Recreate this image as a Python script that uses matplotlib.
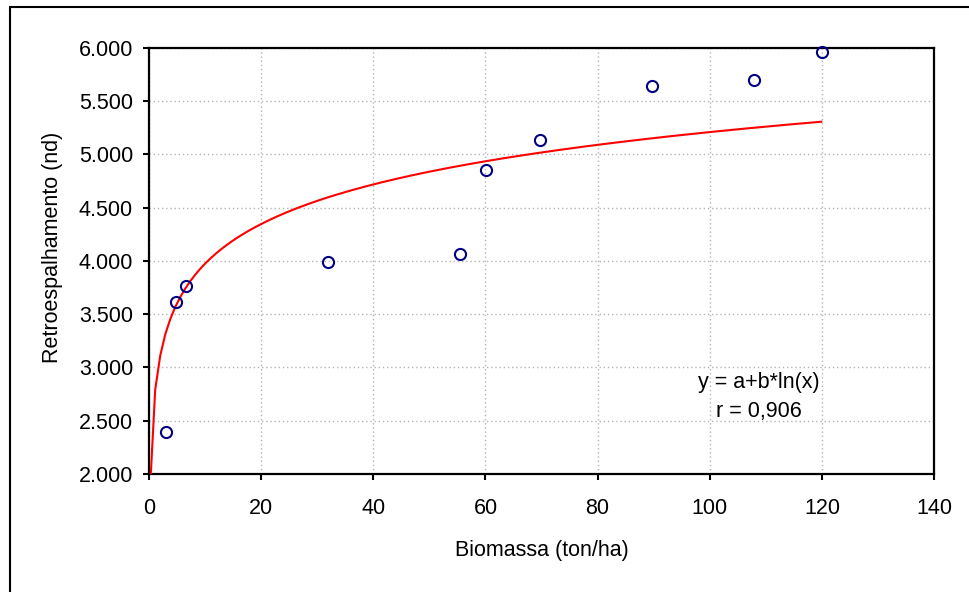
import numpy as np
import matplotlib
matplotlib.use("Agg")
import matplotlib.pyplot as plt
from matplotlib.patches import Rectangle
from matplotlib.ticker import FuncFormatter

plt.rcParams['font.family'] = ['Liberation Sans', 'DejaVu Sans']

# measured points (biomass ton/ha, backscatter)
biomassa = [3.0, 4.8, 6.6, 31.9, 55.5, 60.1, 69.7, 89.7, 107.9, 120.0]
retro = [2394, 3614, 3764, 3989, 4064, 4852, 5134, 5640, 5697, 5959]

# fitted model y = a + b*ln(x), parameters
a = 2740
b = 536

fx = np.arange(0.2, 120.1, 0.9)
fy = a + b * np.log(fx)

fig = plt.figure(figsize=(9.69, 5.92), dpi=100)
ax = fig.add_axes([0.1538, 0.1993, 0.9639 - 0.1538, 0.9194 - 0.1993])

# outer frame around the whole chart
fig.patches.append(Rectangle((10 / 969, -0.05), 1.1, 1 - 7 / 592 + 0.05,
                             transform=fig.transFigure, fill=False,
                             edgecolor='black', linewidth=1.5))

ax.plot(fx, fy, color='red', linewidth=1.5, zorder=3)
ax.plot(biomassa, retro, 'o', markerfacecolor='none', markeredgecolor='#000080',
        markersize=8, markeredgewidth=1.5, zorder=4, clip_on=False)

ax.set_xlim(0, 140)
ax.set_ylim(2000, 6000)
ax.set_xticks(np.arange(0, 141, 20))
ax.set_yticks(np.arange(2000, 6001, 500))
ax.yaxis.set_major_formatter(FuncFormatter(lambda v, p: f"{v:,.0f}".replace(",", ".")))

ax.grid(True, color='#b4b4b4', linestyle=(0, (1, 2)), linewidth=1)
ax.set_axisbelow(True)
for s in ax.spines.values():
    s.set_linewidth(1.6)
ax.tick_params(direction='out', length=4.5, width=1.5, labelsize=15.5)
ax.tick_params(axis='y', pad=7)
ax.tick_params(axis='x', pad=12.5)

ax.set_xlabel('Biomassa (ton/ha)', fontsize=15.5, va='center')
ax.set_ylabel('Retroespalhamento (nd)', fontsize=15.5, va='center')
ax.xaxis.set_label_coords(0.5006, -0.1783)
ax.yaxis.set_label_coords(-0.1236, 0.5325)

ax.text(108.8, 2863, 'y = a+b*ln(x)', ha='center', va='center', fontsize=15.5)
ax.text(108.8, 2591, 'r = 0,906', ha='center', va='center', fontsize=15.5)

fig.savefig('out.png', dpi=100)
